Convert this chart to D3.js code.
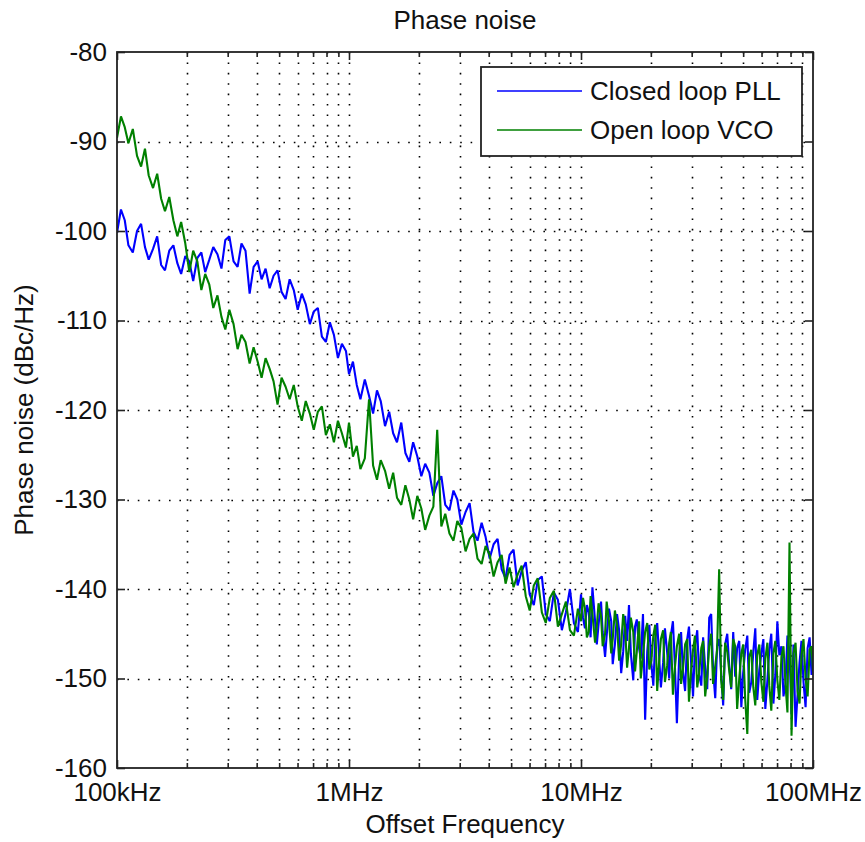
<!DOCTYPE html>
<html>
<head>
<meta charset="utf-8">
<script src="https://cdn.jsdelivr.net/npm/d3@7"></script>
<style>
    body { margin: 0; background: #fff; }
    text { font-family: "Liberation Sans", Arial, sans-serif; fill: #111; }
</style>
</head>
<body>
<div class="chart"></div>
<script>
"use strict";

//
/* Data (frequencies in kHz, noise in dBc/Hz) */
//

var freqDec1 = [100, 104, 108, 112, 117, 122, 127, 132, 137, 143,
                149, 155, 161, 168, 175, 182, 189, 197, 205, 213,
                222, 231, 240, 250, 260, 271, 282, 293, 305, 318,
                331, 344, 358, 373, 388, 404, 420, 437, 455, 473,
                492, 512, 533, 555, 578, 601, 626, 651, 678, 705,
                734, 764, 795, 827, 861, 896, 932, 970];

var freqDec2 = [1000, 1040, 1080, 1120, 1170, 1220, 1270, 1320, 1370, 1430,
                1490, 1550, 1610, 1680, 1750, 1820, 1890, 1970, 2050, 2130,
                2220, 2310, 2400, 2500, 2600, 2710, 2820, 2930, 3050, 3180,
                3310, 3440, 3580, 3730, 3880, 4040, 4200, 4370, 4550, 4730,
                4920, 5120, 5330, 5550, 5780, 6010, 6260, 6510, 6780, 7050,
                7340, 7640, 7950, 8270, 8610, 8960, 9320, 9700];

var freqDec3 = [10000, 10200, 10400, 10600, 10800, 11000, 11200, 11500, 11700, 11900,
                12200, 12400, 12700, 12900, 13200, 13500, 13700, 14000, 14300, 14600,
                14900, 15200, 15500, 15800, 16100, 16400, 16800, 17100, 17400, 17800,
                18100, 18500, 18900, 19300, 19700, 20100, 20500, 20900, 21300, 21700,
                22100, 22600, 23000, 23500, 24000, 24400, 24900, 25400, 25900, 26500,
                27000, 27500, 28100, 28700, 29200, 29800, 30400, 31000, 31700, 32300,
                33000, 33600, 34300, 35000, 35700, 36400, 37100, 37900, 38600, 39400,
                40200, 41000, 41800, 42700, 43500, 44400, 45300, 46200, 47100, 48100,
                49100, 50000, 51000, 52100, 53100, 54200, 55300, 56400, 57500, 58700,
                59900, 61100, 62300, 63600, 64800, 66100, 67500, 68800, 70200, 71600,
                73100, 74600, 76100, 77600, 79200, 80800, 82400, 84100, 85800, 87500,
                89200, 91000, 92900, 94800, 96700, 98600, 100000];

// Closed loop PLL
var pllDec1 = [-100.2, -97.6, -98.8, -101.6, -102.4, -100.0, -99.2, -101.8, -103.2, -102.0,
               -100.6, -103.8, -104.4, -102.2, -101.6, -103.6, -104.8, -102.8, -103.4, -105.6,
               -103.0, -102.4, -104.6, -103.2, -101.8, -102.6, -104.2, -101.0, -100.6, -103.4,
               -104.0, -101.4, -102.2, -107.0, -104.0, -103.4, -105.4, -104.2, -106.4, -105.0,
               -104.4, -106.8, -107.6, -105.4, -106.6, -108.8, -107.0, -108.2, -110.4, -109.0,
               -108.6, -111.8, -112.4, -110.2, -111.6, -114.2, -112.6, -113.4];

var pllDec2 = [-116.0, -114.6, -117.2, -118.8, -116.6, -118.4, -120.4, -117.8, -119.0, -121.8,
               -120.2, -122.6, -123.6, -121.4, -124.8, -125.8, -123.6, -125.2, -127.4, -126.0,
               -127.0, -129.6, -128.2, -127.4, -130.6, -131.2, -129.0, -130.0, -132.8, -131.4,
               -130.4, -133.6, -134.6, -132.6, -134.2, -136.6, -135.0, -134.4, -137.8, -138.8,
               -136.2, -135.6, -139.6, -138.0, -137.0, -140.6, -141.8, -139.0, -138.6, -142.8,
               -143.6, -140.4, -141.2, -144.6, -142.6, -140.0, -143.8, -144.8];

var pllDec3 = [-140.6, -143.2, -144.4, -141.8, -142.6, -145.4, -139.8, -143.6, -146.2, -144.0,
               -141.4, -144.8, -147.6, -145.2, -142.2, -143.6, -148.4, -146.2, -142.8, -144.6,
               -149.4, -147.0, -143.0, -145.8, -141.8, -147.2, -150.2, -144.2, -143.4, -146.6,
               -147.8, -142.8, -154.6, -147.0, -144.0, -148.4, -150.8, -145.6, -143.8, -147.4,
               -151.0, -148.2, -144.4, -147.0, -150.0, -145.2, -143.6, -148.6, -155.0, -147.4,
               -144.8, -149.2, -151.4, -145.6, -144.2, -148.0, -152.0, -146.4, -144.6, -149.6,
               -150.8, -145.4, -148.8, -151.2, -143.2, -142.8, -149.0, -152.2, -146.4, -145.6,
               -149.4, -153.0, -146.2, -145.0, -148.4, -151.2, -144.8, -149.8, -146.6, -145.8,
               -153.2, -149.4, -146.8, -145.2, -151.6, -150.4, -147.0, -144.4, -152.4, -149.0,
               -147.2, -145.6, -153.4, -150.2, -146.8, -145.0, -152.8, -149.6, -143.6, -147.4,
               -146.4, -152.0, -150.6, -145.2, -147.0, -154.0, -146.2, -155.4, -151.8, -148.2,
               -145.8, -150.4, -153.2, -146.6, -145.4, -149.6, -147.0];

// Open loop VCO
var vcoDec1 = [-89.6, -87.2, -88.4, -90.2, -88.6, -91.6, -92.8, -90.8, -93.8, -95.2,
               -93.6, -96.4, -97.8, -96.2, -98.8, -100.6, -99.0, -101.4, -104.6, -102.2,
               -103.4, -106.6, -104.8, -106.0, -108.6, -107.2, -109.6, -111.0, -108.8, -110.4,
               -113.2, -111.6, -112.4, -114.8, -113.0, -114.6, -116.4, -114.2, -115.4, -116.8,
               -119.4, -116.4, -117.4, -118.8, -117.2, -119.6, -121.2, -119.0, -120.4, -122.2,
               -120.2, -119.6, -122.8, -121.6, -123.6, -121.2, -122.6, -124.2];

var vcoDec2 = [-121.4, -125.2, -124.0, -126.6, -125.4, -118.8, -126.2, -127.8, -125.6, -126.8,
               -128.8, -127.0, -129.8, -130.6, -128.4, -130.0, -132.2, -129.6, -131.0, -133.4,
               -131.8, -130.8, -122.2, -133.0, -131.6, -133.8, -134.6, -132.4, -133.2, -135.8,
               -134.4, -133.8, -136.6, -137.2, -135.2, -136.2, -138.6, -137.0, -136.2, -139.4,
               -137.6, -139.8, -138.4, -137.4, -140.8, -142.4, -139.6, -138.8, -142.6, -143.8,
               -141.0, -140.2, -144.2, -142.8, -141.4, -144.6, -145.2, -142.2];

var vcoDec3 = [-143.6, -141.0, -142.2, -145.4, -144.8, -140.8, -142.8, -146.0, -144.2, -141.6,
               -143.0, -146.4, -145.0, -141.4, -143.6, -147.2, -145.6, -142.4, -144.0, -148.0,
               -146.2, -142.8, -144.4, -148.8, -146.6, -143.2, -144.8, -149.2, -147.0, -143.6,
               -150.0, -147.4, -144.8, -143.8, -149.0, -148.0, -145.2, -144.0, -151.4, -148.2,
               -145.6, -144.6, -150.4, -148.6, -146.0, -144.8, -151.8, -148.8, -146.4, -145.0,
               -150.6, -149.0, -146.2, -145.6, -152.6, -149.2, -146.8, -145.2, -151.0, -149.4,
               -146.6, -145.8, -152.0, -149.8, -146.4, -145.0, -150.6, -148.6, -146.8, -137.8,
               -150.2, -152.4, -146.0, -147.0, -149.0, -151.0, -145.6, -146.4, -153.4, -150.0,
               -147.2, -146.2, -152.2, -156.2, -147.6, -146.8, -151.0, -153.0, -147.4, -146.2,
               -150.4, -152.6, -147.8, -146.0, -150.8, -153.6, -147.2, -145.8, -150.2, -152.4,
               -147.6, -146.4, -150.6, -153.8, -134.8, -156.4, -147.2, -146.0, -151.4, -152.8,
               -147.4, -145.6, -150.0, -152.0, -146.8, -146.4, -149.2];

var seriesNames = ["Closed loop PLL", "Open loop VCO"];
var seriesColors = ["#0000ff", "#008000"];

var xTickValues = [100, 1000, 10000, 100000];
var xTickLabels = ["100kHz", "1MHz", "10MHz", "100MHz"];
var yTickValues = [-160, -150, -140, -130, -120, -110, -100, -90, -80];
var yTickLabels = ["-160", "-150", "-140", "-130", "-120", "-110", "-100", "-90", "-80"];


var PhaseNoisePlot = function()
{
    var self = this;

    // SVG Properties
    var svgContainer;
    var svgMargin = { top: 52, left: 117, bottom: 74, right: 52 };

    var svgWidth = 865 - svgMargin.left - svgMargin.right;
    var svgHeight = 842 - svgMargin.top - svgMargin.bottom;

    var x, y;
    var series = [];

    self.buildSeries = function()
    {
        var freqs = freqDec1.concat(freqDec2, freqDec3);
        var pll = pllDec1.concat(pllDec2, pllDec3);
        var vco = vcoDec1.concat(vcoDec2, vcoDec3);

        [pll, vco].forEach(function(vals, k)
        {
            var n = Math.min(freqs.length, vals.length);
            var pts = [];
            for (var i = 0; i < n; i++)
                pts.push({ f: freqs[i], v: vals[i] });
            series.push({ name: seriesNames[k], color: seriesColors[k], points: pts });
        });
    }

    self.createSVGs = function()
    {
        var svg = d3.select(".chart").append("svg")
                        .attr("width", 865)
                        .attr("height", 842);

        svg.append("defs").append("clipPath")
                        .attr("id", "plotClip")
                        .append("rect")
                        .attr("width", svgWidth)
                        .attr("height", svgHeight);

        svgContainer = svg.append("g")
                        .attr("transform", "translate(" + svgMargin.left + "," + svgMargin.top + ")");

        x = d3.scaleLog().domain([100, 100000]).range([0, svgWidth]);
        y = d3.scaleLinear().domain([-160, -80]).range([svgHeight, 0]);
    }

    self.drawGrid = function()
    {
        var gridX = x.ticks().filter(function(d) { return d > 100 && d < 100000; });
        var gridY = yTickValues.filter(function(d) { return d > -160 && d < -80; });

        var grid = svgContainer.append("g").attr("class", "grid");

        grid.selectAll(".vgrid")
            .data(gridX)
            .enter()
            .append("line")
            .attr("x1", function(d) { return Math.round(x(d)) + 0.5; })
            .attr("x2", function(d) { return Math.round(x(d)) + 0.5; })
            .attr("y1", 0)
            .attr("y2", svgHeight)
            .attr("stroke", "#000")
            .attr("stroke-width", 1.6)
            .attr("stroke-dasharray", "1.6,8.8");

        grid.selectAll(".hgrid")
            .data(gridY)
            .enter()
            .append("line")
            .attr("x1", 0)
            .attr("x2", svgWidth)
            .attr("y1", function(d) { return Math.round(y(d)) + 0.5; })
            .attr("y2", function(d) { return Math.round(y(d)) + 0.5; })
            .attr("stroke", "#000")
            .attr("stroke-width", 1.6)
            .attr("stroke-dasharray", "1.6,8.8");
    }

    self.drawLines = function()
    {
        var line = d3.line()
                    .x(function(d) { return x(d.f); })
                    .y(function(d) { return y(d.v); });

        svgContainer.append("g")
                    .attr("clip-path", "url(#plotClip)")
                    .selectAll(".trace")
                    .data(series)
                    .enter()
                    .append("path")
                    .attr("class", "trace")
                    .attr("fill", "none")
                    .attr("stroke", function(d) { return d.color; })
                    .attr("stroke-width", 2.1)
                    .attr("stroke-linejoin", "bevel")
                    .attr("d", function(d) { return line(d.points); });
    }

    self.drawAxes = function()
    {
        var minorX = x.ticks().filter(function(d) { return xTickValues.indexOf(d) < 0; });

        var xAxis = d3.axisBottom(x)
                        .tickValues(xTickValues)
                        .tickFormat(function(d, i) { return xTickLabels[i]; })
                        .tickSizeInner(-8)
                        .tickSizeOuter(0)
                        .tickPadding(15);

        var yAxis = d3.axisLeft(y)
                        .tickValues(yTickValues)
                        .tickFormat(function(d, i) { return yTickLabels[i]; })
                        .tickSizeInner(-8)
                        .tickSizeOuter(0)
                        .tickPadding(10);

        var xMinor = d3.axisBottom(x).tickValues(minorX).tickFormat("").tickSizeInner(-5).tickSizeOuter(0);

        svgContainer.append("g")
                    .attr("class", "xAxis")
                    .attr("transform", "translate(0," + svgHeight + ")")
                    .call(xAxis);

        svgContainer.append("g")
                    .attr("transform", "translate(0," + svgHeight + ")")
                    .call(xMinor);

        svgContainer.append("g")
                    .call(d3.axisTop(x).tickValues(xTickValues).tickFormat("").tickSizeInner(-8).tickSizeOuter(0));

        svgContainer.append("g")
                    .call(d3.axisTop(x).tickValues(minorX).tickFormat("").tickSizeInner(-5).tickSizeOuter(0));

        svgContainer.append("g")
                    .attr("class", "yAxis")
                    .call(yAxis);

        svgContainer.append("g")
                    .attr("transform", "translate(" + svgWidth + ",0)")
                    .call(d3.axisRight(y).tickValues(yTickValues).tickFormat("").tickSizeInner(-8).tickSizeOuter(0));

        svgContainer.selectAll(".domain").remove();
        svgContainer.selectAll(".tick line")
                    .attr("stroke", "#222")
                    .attr("stroke-width", 1.6);
        svgContainer.selectAll(".tick text")
                    .attr("font-size", "26px")
                    .attr("fill", "#111");

        // box round the plot
        svgContainer.append("rect")
                    .attr("x", 0)
                    .attr("y", 0)
                    .attr("width", svgWidth)
                    .attr("height", svgHeight)
                    .attr("fill", "none")
                    .attr("stroke", "#222")
                    .attr("stroke-width", 1.8);

        // title and axis labels
        svgContainer.append("text")
                    .attr("x", svgWidth / 2)
                    .attr("y", -23)
                    .attr("text-anchor", "middle")
                    .attr("font-size", "26px")
                    .text("Phase noise");

        svgContainer.append("text")
                    .attr("x", svgWidth / 2)
                    .attr("y", svgHeight + 65)
                    .attr("text-anchor", "middle")
                    .attr("font-size", "26px")
                    .text("Offset Frequency");

        svgContainer.append("text")
                    .attr("transform", "translate(" + (33 - svgMargin.left) + "," + (svgHeight / 2) + ") rotate(-90)")
                    .attr("text-anchor", "middle")
                    .attr("font-size", "26px")
                    .text("Phase noise (dBc/Hz)");
    }

    self.drawLegend = function()
    {
        var legend = svgContainer.append("g")
                    .attr("class", "legend")
                    .attr("transform", "translate(" + (481 - svgMargin.left) + "," + (67 - svgMargin.top) + ")");

        legend.append("rect")
              .attr("width", 321)
              .attr("height", 89)
              .attr("fill", "#fff")
              .attr("stroke", "#222")
              .attr("stroke-width", 1.8);

        var rows = legend.selectAll(".legendRow")
              .data(series)
              .enter()
              .append("g")
              .attr("class", "legendRow")
              .attr("transform", function(d, i) { return "translate(0," + (24 + i * 39) + ")"; });

        rows.append("line")
            .attr("x1", 16)
            .attr("x2", 101)
            .attr("stroke", function(d) { return d.color; })
            .attr("stroke-width", 1.6);

        rows.append("text")
            .attr("x", 109)
            .attr("dy", "0.35em")
            .attr("font-size", "26px")
            .text(function(d) { return d.name; });
    }

    var publiclyAvailable =
    {
        draw: function()
        {
            self.buildSeries();
            self.createSVGs();
            self.drawGrid();
            self.drawLines();
            self.drawAxes();
            self.drawLegend();
        },
    };

    return publiclyAvailable;
}

new PhaseNoisePlot().draw();
</script>
</body>
</html>
